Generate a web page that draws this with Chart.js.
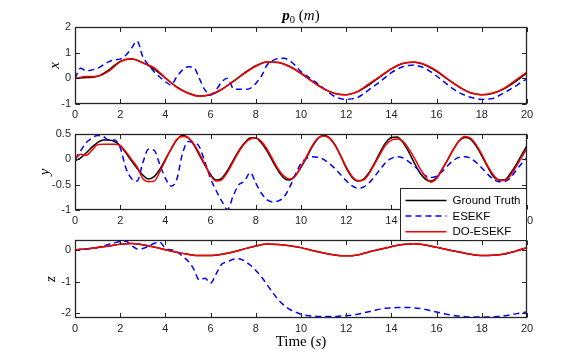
<!DOCTYPE html>
<html>
<head>
<meta charset="utf-8">
<script src="https://cdn.jsdelivr.net/npm/chart.js@4.4.1/dist/chart.umd.min.js"></script>
<style>
  body { margin: 0; background: #fff; }
  #wrap { position: relative; width: 581px; height: 357px; background: #fff; }
  canvas { position: absolute; left: 0; }
</style>
</head>
<body>
<div id="wrap">
  <canvas id="chartX" width="581" height="124" style="top:0px"></canvas>
  <canvas id="chartZ" width="581" height="141" style="top:216px"></canvas>
  <canvas id="chartY" width="581" height="135" style="top:110px"></canvas>
</div>
<script>
// time grids (s)
var tHalf = [0,0.5,1,1.5,2,2.5,3,3.5,4,4.5,5,5.5,6,6.5,7,7.5,8,8.5,9,9.5,10,
  10.5,11,11.5,12,12.5,13,13.5,14,14.5,15,15.5,16,16.5,17,17.5,18,18.5,19,19.5,20];
var tQuarter = [0,0.25,0.5,0.75,1,1.25,1.5,1.75,2,2.25,2.5,2.75,3,3.25,3.5,3.75,
  4,4.25,4.5,4.75,5,5.25,5.5,5.75,6,6.25,6.5,6.75,7,7.25,7.5,7.75,
  8,8.25,8.5,8.75,9,9.25,9.5,9.75,10,10.25,10.5,10.75,11,11.25,11.5,11.75,
  12,12.25,12.5,12.75,13,13.25,13.5,13.75,14,14.25,14.5,14.75,15,15.25,15.5,15.75,
  16,16.25,16.5,16.75,17,17.25,17.5,17.75,18,18.25,18.5,18.75,19,19.25,19.5,19.75,20];

var seriesNames = ['Ground Truth', 'ESEKF', 'DO-ESEKF'];
var xTicks = [0,2,4,6,8,10,12,14,16,18,20];
var xPanelTicks = [-1,0,1,2];
var yPanelTicks = [-1,-0.5,0,0.5];
var zPanelTicks = [-2,-1,0];

// x position
var gtX = [0,0.03,0.08,0.33,0.66,0.75,0.61,0.36,0.01,-0.33,-0.57,-0.69,-0.64,-0.43,-0.12,0.21,0.49,0.64,0.62,0.46,0.19,
  -0.12,-0.40,-0.59,-0.64,-0.52,-0.26,0.06,0.37,0.58,0.63,0.52,0.27,-0.04,-0.34,-0.56,-0.64,-0.58,-0.40,-0.12,0.22];
var doX = [0,0.07,0.08,0.28,0.64,0.76,0.60,0.42,0.02,-0.35,-0.58,-0.70,-0.62,-0.42,-0.13,0.19,0.47,0.64,0.62,0.46,0.20,
  -0.12,-0.41,-0.59,-0.64,-0.52,-0.22,0.08,0.38,0.58,0.64,0.53,0.30,-0.03,-0.33,-0.56,-0.64,-0.57,-0.38,-0.07,0.24];
var esX = [0,0.39,0.29,0.33,0.39,0.52,0.65,0.72,0.75,0.90,1.17,1.45,0.84,0.52,0.26,0.05,
  -0.13,-0.26,0.06,0.32,0.45,0.43,0.00,-0.45,-0.65,-0.45,-0.13,0.00,-0.39,-0.43,-0.43,-0.39,
  -0.20,0.09,0.52,0.69,0.78,0.78,0.69,0.50,0.26,0.10,-0.06,-0.22,-0.39,-0.56,-0.71,-0.79,
  -0.82,-0.80,-0.75,-0.62,-0.45,-0.29,-0.13,0.05,0.22,0.35,0.45,0.50,0.52,0.47,0.39,0.25,
  0.09,-0.08,-0.26,-0.42,-0.56,-0.66,-0.74,-0.79,-0.82,-0.81,-0.78,-0.68,-0.56,-0.43,-0.30,-0.15,-0.02];

// y position
var gtY = [-0.03,0.03,0.13,0.24,0.33,0.38,0.38,0.35,0.27,0.13,-0.03,-0.18,-0.31,-0.39,-0.34,-0.20,
  0.00,0.20,0.38,0.47,0.43,0.29,0.09,-0.12,-0.30,-0.41,-0.37,-0.22,-0.02,0.17,0.32,0.42,
  0.42,0.32,0.16,-0.04,-0.23,-0.37,-0.41,-0.32,-0.16,0.04,0.25,0.41,0.47,0.43,0.29,0.07,
  -0.17,-0.35,-0.43,-0.40,-0.27,-0.08,0.14,0.33,0.43,0.44,0.34,0.16,-0.06,-0.26,-0.39,-0.43,
  -0.36,-0.19,0.00,0.20,0.36,0.43,0.40,0.26,0.07,-0.14,-0.33,-0.41,-0.41,-0.29,-0.12,0.08,0.27];
var doY = [0,0.10,0.08,0.18,0.29,0.30,0.30,0.30,0.27,0.15,0.00,-0.15,-0.38,-0.44,-0.43,-0.25,
  -0.02,0.20,0.39,0.45,0.43,0.31,0.12,-0.10,-0.32,-0.43,-0.40,-0.25,-0.05,0.15,0.31,0.40,
  0.42,0.35,0.20,0.00,-0.20,-0.33,-0.39,-0.33,-0.14,0.06,0.27,0.42,0.46,0.42,0.28,0.08,
  -0.15,-0.33,-0.42,-0.41,-0.29,-0.10,0.10,0.28,0.38,0.40,0.36,0.22,0.04,-0.17,-0.34,-0.45,
  -0.38,-0.20,0.00,0.20,0.37,0.45,0.42,0.29,0.10,-0.12,-0.30,-0.41,-0.42,-0.33,-0.16,0.03,0.21];
var esY = [0,0.17,0.33,0.42,0.47,0.45,0.38,0.38,0.23,-0.17,-0.38,-0.43,-0.07,0.20,0.18,-0.10,
  -0.37,-0.53,-0.40,0.10,0.35,0.33,0.25,-0.05,-0.38,-0.62,-0.83,-0.99,-0.72,-0.50,-0.43,-0.26,
  -0.47,-0.67,-0.80,-0.84,-0.82,-0.74,-0.55,-0.30,-0.08,0.02,0.05,0.04,0.00,-0.08,-0.18,-0.30,
  -0.42,-0.52,-0.57,-0.55,-0.47,-0.34,-0.20,-0.06,0.02,0.05,0.03,-0.04,-0.13,-0.23,-0.32,-0.36,
  -0.33,-0.24,-0.12,-0.02,0.04,0.05,0.02,-0.06,-0.17,-0.29,-0.39,-0.44,-0.44,-0.37,-0.23,-0.09,0.03];

// z position
var gtZ = [0,0.03,0.07,0.12,0.18,0.20,0.16,0.09,0.00,-0.08,-0.14,-0.18,-0.18,-0.14,-0.07,0.03,0.12,0.18,0.17,0.13,0.07,
  -0.02,-0.10,-0.16,-0.19,-0.16,-0.07,0.02,0.10,0.17,0.19,0.15,0.08,0.00,-0.07,-0.14,-0.18,-0.17,-0.13,-0.04,0.07];
var doZ = [0,0.03,0.07,0.12,0.18,0.20,0.16,0.09,0.00,-0.08,-0.14,-0.18,-0.18,-0.14,-0.07,0.03,0.12,0.18,0.17,0.13,0.07,
  -0.02,-0.10,-0.16,-0.19,-0.16,-0.07,0.02,0.10,0.17,0.19,0.15,0.08,0.00,-0.07,-0.14,-0.18,-0.17,-0.13,-0.04,0.07];
var esZ = [0,0.01,0.02,0.05,0.07,0.12,0.18,0.22,0.26,0.27,0.14,0.03,0.04,0.12,0.20,0.24,
  0.05,0.00,-0.05,-0.20,-0.35,-0.60,-0.95,-0.90,-1.05,-0.75,-0.45,-0.38,-0.30,-0.28,-0.35,-0.48,
  -0.65,-0.85,-1.10,-1.35,-1.58,-1.75,-1.88,-1.96,-2.03,-2.07,-2.09,-2.10,-2.10,-2.10,-2.10,-2.09,
  -2.08,-2.06,-2.03,-1.99,-1.95,-1.91,-1.87,-1.84,-1.83,-1.82,-1.82,-1.82,-1.83,-1.85,-1.88,-1.92,
  -1.96,-2.00,-2.04,-2.07,-2.09,-2.11,-2.12,-2.12,-2.12,-2.12,-2.11,-2.10,-2.08,-2.05,-2.02,-1.99,-1.96];

function pts(ts, vs) {
  return ts.map(function(t, i) { return {x: t, y: vs[i]}; });
}

var axisColor = '#262626';
var tickFont = {family: '"Liberation Sans", Arial, sans-serif', size: 11};
var serif = '"Liberation Serif", "Times New Roman", serif';

// draw a line of mixed-font text centred at cx
function richText(ctx, parts, cx, y) {
  var total = 0;
  parts.forEach(function(p) { ctx.font = p.font; p.w = ctx.measureText(p.text).width; total += p.w; });
  var x = cx - total / 2;
  ctx.textBaseline = 'alphabetic';
  ctx.textAlign = 'left';
  parts.forEach(function(p) {
    ctx.font = p.font;
    ctx.fillText(p.text, x, y + (p.dy || 0));
    x += p.w;
  });
}

var framePlugin = {
  id: 'frame',
  afterDatasetsDraw: function(chart, args, opts) {
    var ctx = chart.ctx, a = chart.chartArea;
    var sx = chart.scales.x, sy = chart.scales.y;
    var L = Math.round(a.left) + 0.5, R = Math.round(a.right) - 0.5;
    var T = Math.round(a.top) + 0.5, B = Math.round(a.bottom) - 0.5;
    ctx.save();
    ctx.strokeStyle = axisColor;
    ctx.lineWidth = 1;
    var tl = 4.5;
    ctx.beginPath();
    sx.ticks.forEach(function(t) {
      var px = Math.round(sx.getPixelForValue(t.value)) + 0.5;
      ctx.moveTo(px, B); ctx.lineTo(px, B - tl);
      ctx.moveTo(px, T); ctx.lineTo(px, T + tl);
    });
    sy.ticks.forEach(function(t) {
      var py = Math.round(sy.getPixelForValue(t.value)) + 0.5;
      ctx.moveTo(L, py); ctx.lineTo(L + tl, py);
      ctx.moveTo(R, py); ctx.lineTo(R - tl, py);
    });
    ctx.stroke();
    ctx.lineWidth = 1.3;
    ctx.strokeRect(L, T, R - L, B - T);

    ctx.fillStyle = '#000';
    // y label
    ctx.save();
    ctx.translate(opts.labelX, (a.top + a.bottom) / 2);
    ctx.rotate(-Math.PI / 2);
    ctx.font = 'italic 15px ' + serif;
    ctx.textAlign = 'center';
    ctx.textBaseline = 'middle';
    ctx.fillText(opts.label, 0, 0);
    ctx.restore();

    var cx = (a.left + a.right) / 2;
    if (opts.title) {
      richText(ctx, [
        {text: 'p', font: 'bold italic 15px ' + serif},
        {text: '0', font: '10.5px ' + serif, dy: 3},
        {text: ' (', font: '15px ' + serif},
        {text: 'm', font: 'italic 15px ' + serif},
        {text: ')', font: '15px ' + serif}
      ], cx, a.top - 7);
    }
    if (opts.xlabel) {
      richText(ctx, [
        {text: 'Time (', font: '15px ' + serif},
        {text: 's', font: 'italic 15px ' + serif},
        {text: ')', font: '15px ' + serif}
      ], cx, a.bottom + 28);
    }
    if (opts.legend) {
      var lw = 126, lh = 52;
      var lx = Math.round(a.right) - lw - 0.5, ly = Math.round(a.bottom) - 22 + 0.5;
      ctx.fillStyle = '#fff';
      ctx.fillRect(lx, ly, lw, lh);
      ctx.strokeStyle = axisColor;
      ctx.lineWidth = 1;
      ctx.strokeRect(lx, ly, lw, lh);
      var ds = chart.data.datasets;
      ds.forEach(function(d, i) {
        var yy = ly + 12 + i * 15.6;
        ctx.beginPath();
        ctx.strokeStyle = d.borderColor;
        ctx.lineWidth = d.borderWidth;
        ctx.setLineDash(d.borderDash || []);
        ctx.moveTo(lx + 5, yy);
        ctx.lineTo(lx + 46, yy);
        ctx.stroke();
        ctx.setLineDash([]);
        ctx.fillStyle = '#000';
        ctx.font = '11.5px "Liberation Sans", Arial, sans-serif';
        ctx.textAlign = 'left';
        ctx.textBaseline = 'middle';
        ctx.fillText(d.label, lx + 52, yy + 0.5);
      });
    }
    ctx.restore();
  }
};

function makeDatasets(gt, gtT, es, dv, dvT) {
  return [
    {label: seriesNames[0], data: pts(gtT, gt), borderColor: '#000000', borderWidth: 1.5, order: 3},
    {label: seriesNames[1], data: pts(tQuarter, es), borderColor: '#0000ff', borderWidth: 1.5, borderDash: [6, 4], order: 2},
    {label: seriesNames[2], data: pts(dvT, dv), borderColor: '#ff0000', borderWidth: 1.5, order: 1}
  ];
}

function makeChart(id, datasets, yMin, yMax, yTicks, pad, xH, frameOpts) {
  return new Chart(document.getElementById(id), {
    type: 'line',
    data: {datasets: datasets},
    options: {
      responsive: false,
      animation: false,
      devicePixelRatio: 1,
      layout: {padding: {left: 0, right: 54, top: pad.top, bottom: pad.bottom}},
      elements: {
        point: {radius: 0},
        line: {cubicInterpolationMode: 'monotone', fill: false}
      },
      plugins: {
        legend: {display: false},
        tooltip: {enabled: false},
        frame: frameOpts
      },
      scales: {
        x: {
          type: 'linear', min: 0, max: 20,
          grid: {display: false, drawTicks: false}, border: {display: false},
          afterBuildTicks: function(s) { s.ticks = xTicks.map(function(v) { return {value: v}; }); },
          afterFit: function(s) { s.height = xH; },
          ticks: {color: axisColor, font: tickFont, padding: 4, maxRotation: 0,
                  callback: function(v) { return String(v); }}
        },
        y: {
          min: yMin, max: yMax,
          grid: {display: false, drawTicks: false}, border: {display: false},
          afterBuildTicks: function(s) { s.ticks = yTicks.map(function(v) { return {value: v}; }); },
          afterFit: function(s) { s.width = 75; },
          ticks: {color: axisColor, font: tickFont, padding: 4,
                  callback: function(v) { return String(v); }}
        }
      }
    },
    plugins: [framePlugin]
  });
}

makeChart('chartX', makeDatasets(gtX, tHalf, esX, doX, tHalf), -1, 2, xPanelTicks,
  {top: 27, bottom: 0}, 20, {label: 'x', labelX: 55, title: true});
makeChart('chartY', makeDatasets(gtY, tQuarter, esY, doY, tQuarter), -1, 0.5, yPanelTicks,
  {top: 24, bottom: 15}, 20, {label: 'y', labelX: 45, legend: true});
makeChart('chartZ', makeDatasets(gtZ, tHalf, esZ, doZ, tHalf), -2.15, 0.31, zPanelTicks,
  {top: 24, bottom: 0}, 39, {label: 'z', labelX: 51, xlabel: true});
</script>
</body>
</html>
